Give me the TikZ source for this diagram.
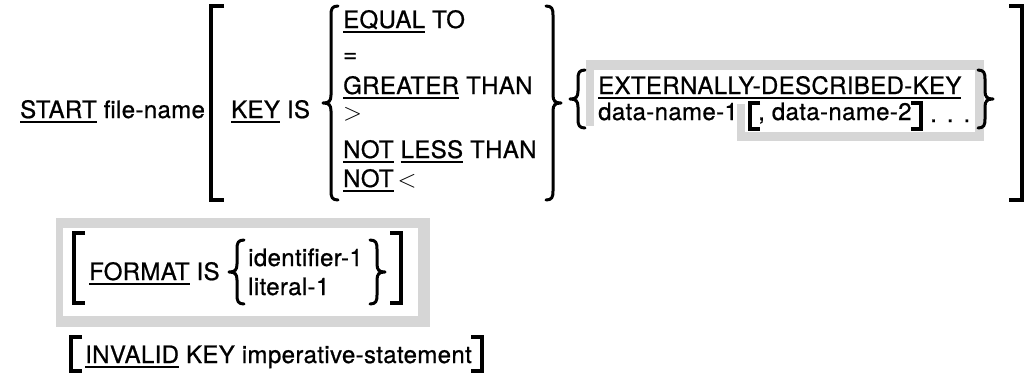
\documentclass[tikz,border=0pt]{standalone}
\usepackage{fontspec}
\setmainfont{TeX Gyre Heros}[LetterSpace=1.5,FakeBold=0.8]
\definecolor{screen}{RGB}{214,214,214}
% underlined keyword
\newcommand\ul[1]{\setbox0=\hbox{#1}\rlap{\rule[-4.5pt]{\wd0}{1.7pt}}\box0\relax}
\newcommand\ulx[1]{\setbox0=\hbox{#1}\rlap{\rule[-5pt]{\wd0}{2pt}}\box0\relax}
% braces: spine x, top, bottom
\newcommand\obrace[3]{%
  \pgfmathsetmacro\brmid{(#2+#3)/2}%
  \draw[brc] (#1+7,#2) .. controls (#1+1,#2) and (#1,#2+3) .. (#1,#2+9)
    -- (#1,\brmid-8) .. controls (#1,\brmid-2) and (#1-2,\brmid) .. (#1-8,\brmid)
    .. controls (#1-2,\brmid) and (#1,\brmid+2) .. (#1,\brmid+8)
    -- (#1,#3-9) .. controls (#1,#3-3) and (#1+1,#3) .. (#1+7,#3);}
\newcommand\cbrace[3]{%
  \pgfmathsetmacro\brmid{(#2+#3)/2}%
  \draw[brc] (#1-7,#2) .. controls (#1-1,#2) and (#1,#2+3) .. (#1,#2+9)
    -- (#1,\brmid-8) .. controls (#1,\brmid-2) and (#1+2,\brmid) .. (#1+8,\brmid)
    .. controls (#1+2,\brmid) and (#1,\brmid+2) .. (#1,\brmid+8)
    -- (#1,#3-9) .. controls (#1,#3-3) and (#1-1,#3) .. (#1-7,#3);}
% brackets: spine x, top, bottom, arm length
\newcommand\obrack[4]{\draw[brk] (#1+#4,#2) -- (#1,#2) -- (#1,#3) -- (#1+#4,#3);}
\newcommand\cbrack[4]{\draw[brk] (#1-#4,#2) -- (#1,#2) -- (#1,#3) -- (#1-#4,#3);}
\newcommand\sym[1]{\ensuremath{#1}}
\begin{document}
\begin{tikzpicture}[x=1pt,y=-1pt,
  txt/.style={anchor=base west,inner sep=0pt,font=\fontsize{24}{28}\selectfont},
  brk/.style={line width=4.5pt,miter limit=10},
  brc/.style={line width=3pt,line cap=round,line join=round}]
\fill[white] (0,0) rectangle (1033,373);
\useasboundingbox (0,0) rectangle (1033,373);

% screened (gray) areas
\fill[screen] (586,60) rectangle (984,70);
\fill[screen] (586,60) rectangle (594,126);
\fill[screen] (975,60) rectangle (984,141);
\fill[screen] (737,132) rectangle (984,141);
\fill[screen] (737,104) rectangle (745,141);
\fill[screen] (56,218) rectangle (430,228);
\fill[screen] (56,316) rectangle (430,327);
\fill[screen] (56,218) rectangle (63,327);
\fill[screen] (418,218) rectangle (430,327);

% first line
\node[txt] (start) at (20,118) {\ul{START} file-name};
\obrack{211}{6}{200}{13}
\node[txt] (key) at (231,118) {\ul{KEY} IS};
\obrace{331}{6}{200}
\node[txt] (eq)   at (343,28)  {\ul{EQUAL} TO};
\node[txt] (eqs)  at (343,62)  {=};
\node[txt] (gt)   at (343,94)  {\ul{GREATER} THAN};
\node[txt] (gts)  at (343,120) {\sym{>}};
\node[txt] (nlt)  at (343,158) {\ul{NOT} \ul{LESS} THAN};
\node[txt] (nlts) at (343,187) {\ul{NOT}\,\sym{<}};
\cbrace{553}{6}{200}

\obrace{578}{70}{128}
\node[txt] (ext) at (598,94) {\ulx{EXTERNALLY-DESCRIBED-KEY}};
\node[txt] (dn1) at (598,120) {data-name-1};
\obrack{750}{103}{129}{10}
\node[txt] (dn2) at (758,120) {, data-name-2};
\cbrack{921}{103}{129}{10}
\node[txt] (dots) at (930,122) {.\hspace{10pt}.\hspace{10pt}.};
\cbrace{985}{70}{128}
\cbrack{1022}{6}{200}{13}

% second line
\obrack{74}{233}{303}{11}
\node[txt] (fmt) at (89,280) {\ul{FORMAT} IS};
\obrace{237}{240}{304}
\node[txt] (id1) at (248,266) {identifier-1};
\node[txt] (lit1) at (248,295) {literal-1};
\cbrace{377}{240}{304}
\cbrack{401}{233}{303}{11}

% third line
\obrack{71}{337}{371}{11}
\node[txt] (inv) at (85,363) {\ul{INVALID} KEY imperative-statement};
\cbrack{482}{337}{371}{11}
\end{tikzpicture}
\end{document}
